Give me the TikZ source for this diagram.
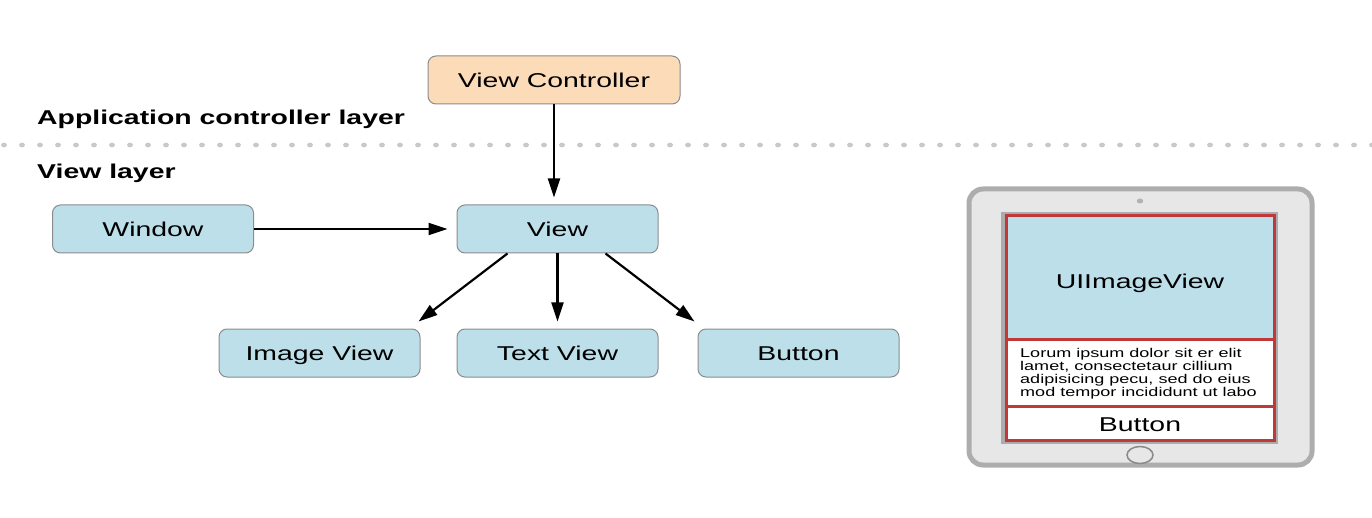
\documentclass[tikz,border=0pt]{standalone}
\usepackage{fontspec}
\setmainfont{Liberation Sans}[FakeStretch=1.42]
\usetikzlibrary{arrows.meta,calc}
\definecolor{boxblue}{HTML}{BCDFEA}
\definecolor{peach}{HTML}{FCDBB8}
\definecolor{boxedge}{HTML}{8C8C8C}
\definecolor{dotgray}{HTML}{C9C9C9}
\definecolor{tabletfill}{HTML}{E7E7E7}
\definecolor{tabletedge}{HTML}{ADADAD}
\definecolor{screenframe}{HTML}{ACACAC}
\definecolor{viewred}{HTML}{C0383A}
\begin{document}
\begin{tikzpicture}[x=1pt,y=-1pt,
  vbox/.style={draw=boxedge, line width=1pt, fill=boxblue, rounded corners=8pt,
    minimum width=201pt, minimum height=48pt, inner sep=0pt,
    text height=15.5pt, text depth=0pt,
    font=\fontsize{20}{24}\selectfont},
  layerlabel/.style={anchor=west, inner sep=0pt, text height=15.5pt, text depth=0pt,
    font=\fontsize{20}{24}\selectfont\bfseries},
  screentext/.style={inner sep=0pt, text height=15.5pt, text depth=0pt,
    font=\fontsize{20}{24}\selectfont},
  link/.style={line width=2.2pt, -{Triangle[length=19pt,width=12pt]}}]
\useasboundingbox (0,0) rectangle (1372,518);

% layer separator
\foreach \i in {0,...,76} \fill[dotgray] (4+18*\i,145) ellipse (3 and 2.4);

% layer labels
\node[layerlabel] (applbl) at (37,117) {Application controller layer};
\node[layerlabel] (viewlbl) at (37,171) {View layer};

% view hierarchy
\node[vbox, fill=peach, minimum width=252pt] (vc) at (554,80) {View Controller};
\node[vbox] (window) at (153,229) {Window};
\node[vbox] (view) at (557.5,229) {View};
\node[vbox] (imageview) at (319.5,353) {Image View};
\node[vbox] (textview) at (557.5,353) {Text View};
\node[vbox] (button) at (798.5,353) {Button};

\draw[link, shorten >=7pt] (vc.south) -- (vc.south |- view.north);
\draw[link, shorten >=9pt] (window.east) -- (view.west);
\draw[link] ($(view.south)+(-50,0)$) -- ($(imageview.north east)+(-2,-7)$);
\draw[link, shorten >=7pt] (view.south) -- (textview.north);
\draw[link] ($(view.south)+(48,0)$) -- ($(button.north west)+(-3,-7)$);

% tablet
\draw[fill=tabletfill, draw=tabletedge, line width=5pt, rounded corners=14pt]
  (969,189) rectangle (1312,465);
\fill[gray!60] (1140,201) ellipse (3.2 and 2.5);
\fill[screenframe] (1001,212) rectangle (1278,444);
\fill[boxblue] (1007,217) rectangle (1273,339);
\fill[white] (1007,339) rectangle (1273,439);
\draw[viewred, line width=3pt] (1006,216) rectangle (1274,440);
\draw[viewred, line width=3pt] (1006,339) -- (1274,339);
\draw[viewred, line width=3pt] (1006,406) -- (1274,406);
\draw[tabletedge!80!black, line width=1.5pt, fill=tabletfill] (1140,455) ellipse (13 and 8.5);

\node[screentext] (uiimage) at (1140,281) {UIImageView};
\node[inner sep=0pt, anchor=north west, align=left,
  font=\fontsize{12.7}{13}\selectfont] (lorem) at (1020,348.5)
  {Lorum ipsum dolor sit er elit\\lamet, consectetaur cillium\\adipisicing pecu, sed do eius\\mod tempor incididunt ut labo};
\node[screentext] (tabbutton) at (1140,424) {Button};
\end{tikzpicture}
\end{document}
